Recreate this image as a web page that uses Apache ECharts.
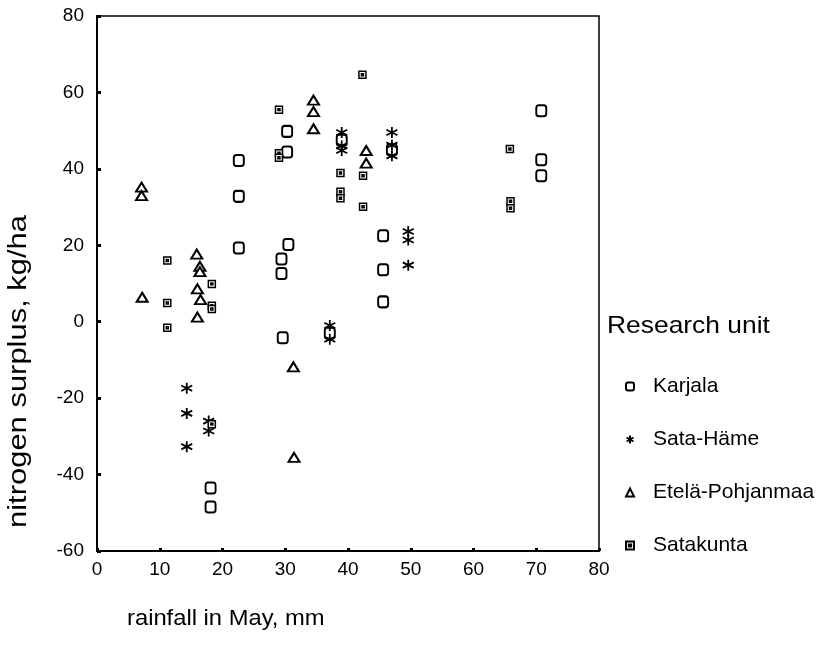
<!DOCTYPE html>
<html>
<head>
<meta charset="utf-8">
<script src="https://cdn.jsdelivr.net/npm/echarts@6/dist/echarts.min.js"></script>
<style>
  html, body { margin: 0; padding: 0; background: #fff; }
  #main { width: 818px; height: 650px; }
</style>
</head>
<body>
<div id="main"></div>
<script>
// rainfall in May (mm) vs nitrogen surplus (kg/ha)
var karjala = [
  [30.3, 49.8], [30.3, 44.4], [22.6, 42.2], [22.6, 32.8], [22.6, 19.3],
  [30.5, 20.2], [29.4, 16.4], [29.4, 12.6], [29.6, -4.2], [39.0, 47.5],
  [47.0, 45.0], [45.6, 22.5], [45.6, 13.6], [45.6, 5.2], [70.8, 55.2],
  [70.8, 42.4], [70.8, 38.2], [18.1, -43.5], [18.1, -48.5], [37.1, -3.0]
];
var sataHame = [
  [14.3, -17.4], [14.3, -24.0], [14.3, -32.7], [17.8, -26.0], [17.8, -28.6],
  [37.1, -1.0], [37.1, -4.6], [39.0, 49.5], [39.0, 46.0], [39.0, 44.8],
  [47.0, 49.5], [47.0, 46.2], [47.0, 43.4], [49.6, 23.6], [49.6, 21.4],
  [49.6, 14.8]
];
var etelaPohjanmaa = [
  [7.1, 35.2], [7.1, 33.0], [7.2, 6.4], [15.9, 17.7], [16.4, 14.5],
  [16.4, 13.1], [16.0, 8.6], [16.5, 5.8], [16.0, 1.2], [34.5, 58.0],
  [34.5, 55.0], [34.5, 50.5], [42.9, 44.8], [42.9, 41.5], [31.3, -11.8],
  [31.4, -35.5]
];
var satakunta = [
  [29.0, 55.5], [29.0, 44.1], [29.0, 42.9], [38.8, 38.9], [38.8, 34.0],
  [38.8, 32.3], [42.3, 64.6], [42.4, 38.2], [42.4, 30.1], [11.2, 16.0],
  [11.2, 4.9], [11.2, -1.6], [18.3, 9.9], [18.3, 4.2], [18.3, 3.3],
  [18.3, -26.8], [65.8, 45.2], [65.9, 31.5], [65.9, 29.7]
];
var seriesNames = ['Karjala', 'Sata-Häme', 'Etelä-Pohjanmaa', 'Satakunta'];

var FONT = '"Liberation Sans", Arial, sans-serif';

var asterisk = 'path://M0,-6L0,6M-5.2,-3L5.2,3M-5.2,3L5.2,-3';
var dotSquare = 'path://M0,0H10V10H0ZM3.6,3.6H6.4V6.4H3.6Z';

// empty* symbols take their stroke from color, path symbols get a white fill
function mk(name, data, symbol, size, bw, empty) {
  return {
    name: name,
    type: 'scatter',
    data: data,
    symbol: symbol,
    symbolSize: size,
    itemStyle: {
      color: empty ? '#000' : '#fff',
      borderColor: '#000', borderWidth: bw, opacity: 1
    },
    emphasis: { disabled: true }
  };
}

var chart = echarts.init(document.getElementById('main'));
chart.setOption({
  animation: false,
  backgroundColor: '#fff',
  textStyle: { fontFamily: FONT },
  grid: {
    left: 97, right: 219, top: 16, bottom: 99,
    show: true, borderColor: '#000', borderWidth: 1.5
  },
  xAxis: {
    type: 'value', min: 0, max: 80, interval: 10,
    axisLine: { show: true, onZero: false, lineStyle: { color: '#000', width: 2 } },
    axisTick: { show: true, inside: true, length: 3, lineStyle: { color: '#000', width: 3 } },
    axisLabel: { color: '#000', fontSize: 19, margin: 9, fontFamily: FONT },
    splitLine: { show: false }
  },
  yAxis: {
    type: 'value', min: -60, max: 80, interval: 20,
    axisLine: { show: true, onZero: false, lineStyle: { color: '#000', width: 2 } },
    axisTick: { show: true, inside: true, length: 4, lineStyle: { color: '#000', width: 3 } },
    axisLabel: { color: '#000', fontSize: 19, margin: 13, fontFamily: FONT },
    splitLine: { show: false }
  },
  legend: {
    orient: 'vertical',
    left: 620, top: 371,
    itemWidth: 8, itemHeight: 8,
    itemGap: 32,
    data: seriesNames,
    textStyle: { color: '#000', fontSize: 21, fontFamily: FONT, padding: [0, 0, 0, 14] }
  },
  graphic: [
    {
      type: 'text', left: 607, top: 314, scaleX: 1.1,
      style: { text: 'Research unit', font: '24px ' + FONT, fill: '#000' }
    },
    {
      type: 'text', x: 127, y: 608, scaleX: 1.08,
      style: { text: 'rainfall in May, mm', font: '22px ' + FONT, fill: '#000' }
    },
    {
      type: 'text', x: 6, y: 528, rotation: Math.PI / 2, scaleX: 1.19,
      style: { text: 'nitrogen surplus, kg/ha', font: '26px ' + FONT, fill: '#000' }
    }
  ],
  series: [
    mk('Karjala', karjala, 'emptyRoundRect', [10, 11], 1.6, true),
    mk('Sata-Häme', sataHame, asterisk, 11, 1.8, false),
    mk('Etelä-Pohjanmaa', etelaPohjanmaa, 'emptyTriangle', [11, 9], 1.5, true),
    mk('Satakunta', satakunta, dotSquare, 7, 1.5, false)
  ]
});
</script>
</body>
</html>
